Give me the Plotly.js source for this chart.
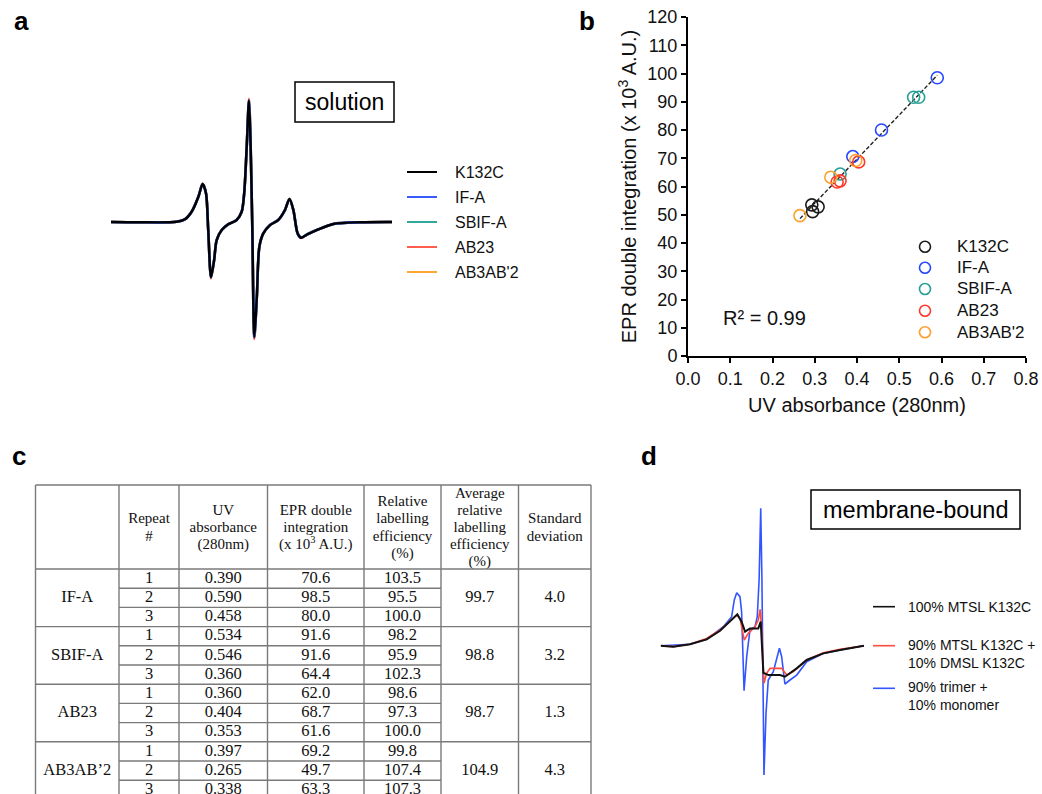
<!DOCTYPE html>
<html><head><meta charset="utf-8">
<script src="https://cdn.plot.ly/plotly-3.0.1.min.js"></script>
<style>html,body{margin:0;padding:0;background:#fff;}#chart{width:1042px;height:794px;}</style>
</head><body><div id="chart"></div>
<script>
// ================= DATA =================
const seriesNames = ["K132C", "IF-A", "SBIF-A", "AB23", "AB3AB'2"];

// Panel a: normalised solution EPR spectra (arbitrary field units 0-100)
const solutionField    = [0, 10.3, 23.4, 26.3, 28.7, 31.1, 32.6, 33.8, 34.6, 35.6, 36.7, 37.6, 39.4, 41.7, 44.7, 46.5, 47.4, 48.3, 49.1, 49.7, 50.3, 51.0, 51.9, 52.8, 54.2, 56.6, 59.5, 61.9, 63.5, 64.9, 66.4, 67.6, 70.1, 73.2, 79.1, 88.6, 100];
const solutionSpectrum = [0, -0.002, 0.002, 0.022, 0.084, 0.207, 0.311, 0.235, -0.066, -0.453, -0.311, -0.148, -0.066, -0.019, 0.016, 0.084, 0.235, 0.617, 0.996, 0.617, -0.066, -0.943, -0.612, -0.202, -0.093, -0.025, 0.016, 0.098, 0.189, 0.098, -0.093, -0.129, -0.098, -0.066, -0.016, -0.002, 0];
const solutionAB23     = [0, -0.002, 0.002, 0.022, 0.084, 0.207, 0.315, 0.235, -0.066, -0.462, -0.311, -0.148, -0.066, -0.019, 0.016, 0.084, 0.235, 0.617, 1.010, 0.617, -0.066, -0.958, -0.612, -0.202, -0.093, -0.025, 0.016, 0.098, 0.191, 0.098, -0.093, -0.131, -0.098, -0.066, -0.016, -0.002, 0];

// Panel b / table c
const uvK132C  = [0.293, 0.295, 0.308];
const eprK132C = [53.5, 51.1, 52.8];
const uvIFA  = [0.390, 0.590, 0.458], eprIFA  = [70.6, 98.5, 80.0], relIFA  = [103.5, 95.5, 100.0];
const uvSBIFA = [0.534, 0.546, 0.360], eprSBIFA = [91.6, 91.6, 64.4], relSBIFA = [98.2, 95.9, 102.3];
const uvAB23 = [0.360, 0.404, 0.353], eprAB23 = [62.0, 68.7, 61.6], relAB23 = [98.6, 97.3, 100.0];
const uvAB3AB2 = [0.397, 0.265, 0.338], eprAB3AB2 = [69.2, 49.7, 63.3], relAB3AB2 = [99.8, 107.4, 107.3];
const tableGroups = ["IF-A", "SBIF-A", "AB23", "AB3AB\u20192"];
const repeatNumbers = [1, 2, 3];
const avgEfficiency = [99.7, 98.8, 98.7, 104.9];
const stdDeviation = [4.0, 3.2, 1.3, 4.3];
const tableHeaders = ["", "Repeat<br>#", "UV<br>absorbance<br>(280nm)", "EPR double<br>integration<br>(x 10<sup>3</sup> A.U.)",
  "Relative<br>labelling<br>efficiency<br>(%)", "Average<br>relative<br>labelling<br>efficiency<br>(%)", "Standard<br>deviation"];
const r2Label = "R\u00b2 = 0.99";

// Panel d: membrane-bound spectra (arbitrary field units 0-100)
const memLabels = ["100% MTSL K132C", "90% MTSL K132C +<br>10% DMSL K132C", "90% trimer +<br>10% monomer"];
const memFieldMTSL = [0, 6.2, 14.4, 22.6, 29.2, 34.1, 37.7, 39.8, 41.5, 43.9, 46.4, 48.0, 49.2, 50.5, 53.0, 55.4, 58.7, 61.1, 63.6, 66.9, 71.8, 80.0, 88.2, 100];
const memMTSL      = [0, -0.007, 0.010, 0.046, 0.109, 0.175, 0.228, 0.175, 0.102, 0.126, 0.126, 0.126, 0.175, -0.197, -0.214, -0.214, -0.214, -0.226, -0.201, -0.165, -0.104, -0.056, -0.032, 0];
const memFieldDMSL = [0, 6.2, 14.4, 22.6, 29.2, 34.1, 37.4, 39.0, 41.1, 43.1, 46.4, 48.0, 48.9, 49.7, 50.8, 52.1, 53.8, 59.5, 62.0, 65.2, 71.8, 80.0, 88.2, 100];
const memDMSL      = [0, -0.007, 0.010, 0.053, 0.114, 0.175, 0.223, 0.199, 0.041, 0.090, 0.138, 0.187, 0.265, 0.114, -0.274, -0.201, -0.165, -0.165, -0.214, -0.189, -0.104, -0.051, -0.027, 0];
const memFieldTrimer = [0, 14.4, 22.6, 30.8, 34.9, 36.2, 37.4, 39.0, 39.8, 41.0, 42.3, 43.9, 46.4, 47.5, 48.4, 49.2, 49.8, 50.8, 51.8, 52.9, 55.4, 57.0, 58.4, 59.5, 61.1, 63.6, 66.9, 71.8, 80.0, 88.2, 100];
const memTrimer      = [0, 0.010, 0.046, 0.138, 0.211, 0.333, 0.386, 0.357, 0.248, -0.328, -0.080, 0.114, 0.138, 0.211, 0.478, 1.0, 0.478, -0.942, -0.493, -0.250, -0.189, -0.104, -0.019, -0.080, -0.279, -0.250, -0.214, -0.117, -0.056, -0.032, 0];

// ================= STYLE / LAYOUT HELPERS =================
const W = 1042, H = 794;
const X = p => p / W, Y = p => 1 - p / H;
const SANS = "Liberation Sans, Arial, sans-serif";
const SERIF = "Liberation Serif, Times New Roman, serif";
const lineColorsA = ["#000000", "#3a5bff", "#32a89c", "#ff5c4d", "#ffa733"];
const markerColorsB = ["#1c1c1c", "#2647ff", "#26a095", "#ff3a2a", "#ffa02e"];
const memColors = ["#111111", "#ff4a3d", "#3355ff"];

const traces = [];

// ---- Panel a traces (drawn so that black is on top) ----
const solutionSeries = [solutionSpectrum, solutionSpectrum, solutionSpectrum, solutionAB23, solutionSpectrum];
[4, 3, 2, 1, 0].forEach(i => {
  traces.push({type: "scatter", mode: "lines", x: solutionField, y: solutionSeries[i], name: seriesNames[i],
    xaxis: "x", yaxis: "y", line: {color: lineColorsA[i], width: i === 0 ? 2.4 : 2.6, shape: "spline", smoothing: 0.8},
    hoverinfo: "skip", showlegend: false});
});

// ---- Panel b traces ----
const uvSets = [uvK132C, uvIFA, uvSBIFA, uvAB23, uvAB3AB2];
const eprSets = [eprK132C, eprIFA, eprSBIFA, eprAB23, eprAB3AB2];
const allUV = [].concat(...uvSets), allEPR = [].concat(...eprSets);
const n = allUV.length;
const mx = allUV.reduce((a, b) => a + b, 0) / n, my = allEPR.reduce((a, b) => a + b, 0) / n;
let sxy = 0, sxx = 0;
for (let k = 0; k < n; k++) { sxy += (allUV[k] - mx) * (allEPR[k] - my); sxx += (allUV[k] - mx) ** 2; }
const slope = sxy / sxx, icpt = my - slope * mx;
const fitX = [Math.min(...allUV), Math.max(...allUV)];
traces.push({type: "scatter", mode: "lines", x: fitX, y: fitX.map(v => icpt + slope * v), xaxis: "x2", yaxis: "y2",
  line: {color: "#222", width: 1.4, dash: "4px,2px"}, hoverinfo: "skip", showlegend: false});
uvSets.forEach((u, i) => {
  traces.push({type: "scatter", mode: "markers", x: u, y: eprSets[i], name: seriesNames[i], xaxis: "x2", yaxis: "y2",
    marker: {symbol: "circle-open", size: 12, color: markerColorsB[i], line: {width: 1.6, color: markerColorsB[i]}},
    cliponaxis: false, hoverinfo: "skip", showlegend: false});
});

// ---- Panel d traces ----
const memX = [memFieldMTSL, memFieldDMSL, memFieldTrimer], memY = [memMTSL, memDMSL, memTrimer];
[2, 1, 0].forEach(i => {
  traces.push({type: "scatter", mode: "lines", x: memX[i], y: memY[i], name: memLabels[i].replace("<br>", " "),
    xaxis: "x3", yaxis: "y3", line: {color: memColors[i], width: i === 0 ? 2 : 1.6},
    hoverinfo: "skip", showlegend: false});
});

// ---- Panel c table (cells drawn as text on a hidden axis pair) ----
const colEdges = [0, 83.5, 143.5, 232, 328.5, 405.5, 483, 555.5];   // px offsets from table left
const headerTop = -4.375, rowsBottom = 12;                           // in row units
const colC = c => (colEdges[c] + colEdges[c + 1]) / 2;
const relSets = [relIFA, relSBIFA, relAB23, relAB3AB2];
const uvTab = [uvIFA, uvSBIFA, uvAB23, uvAB3AB2], eprTab = [eprIFA, eprSBIFA, eprAB23, eprAB3AB2];
const cellX = [], cellY = [], cellT = [];
tableGroups.forEach((g, gi) => {
  cellX.push(colC(0)); cellY.push(gi * 3 + 1.5); cellT.push(g);
  cellX.push(colC(5)); cellY.push(gi * 3 + 1.5); cellT.push(avgEfficiency[gi].toFixed(1));
  cellX.push(colC(6)); cellY.push(gi * 3 + 1.5); cellT.push(stdDeviation[gi].toFixed(1));
  repeatNumbers.forEach((r, ri) => {
    const row = gi * 3 + ri + 0.5;
    cellX.push(colC(1)); cellY.push(row); cellT.push(String(r));
    cellX.push(colC(2)); cellY.push(row); cellT.push(uvTab[gi][ri].toFixed(3));
    cellX.push(colC(3)); cellY.push(row); cellT.push(eprTab[gi][ri].toFixed(1));
    cellX.push(colC(4)); cellY.push(row); cellT.push(relSets[gi][ri].toFixed(1));
  });
});
traces.push({type: "scatter", mode: "text", x: cellX, y: cellY, text: cellT, textposition: "middle center",
  textfont: {family: SERIF, size: 16.5, color: "#111"}, xaxis: "x4", yaxis: "y4", cliponaxis: false,
  hoverinfo: "skip", showlegend: false});
const hX = [], hY = [], hT = [];
const hCenter = -2.12, hStep = 0.89;
tableHeaders.forEach((h, c) => {
  if (!h) return;
  const lines = h.split("<br>");
  lines.forEach((ln, li) => {
    hX.push(colC(c)); hY.push(hCenter + (li - (lines.length - 1) / 2) * hStep); hT.push(ln);
  });
});
traces.push({type: "scatter", mode: "text", x: hX, y: hY, text: hT, textposition: "middle center",
  textfont: {family: SERIF, size: 15, color: "#111"}, xaxis: "x4", yaxis: "y4", cliponaxis: false,
  hoverinfo: "skip", showlegend: false});

// ================= SHAPES & ANNOTATIONS =================
const shapes = [], annotations = [];
const gridLine = {color: "#7a7a7a", width: 1.4};
// table horizontal lines
[headerTop, 0, 3, 6, 9, rowsBottom].forEach(yv => shapes.push({type: "line", xref: "x4", yref: "y4", x0: colEdges[0], x1: colEdges[7], y0: yv, y1: yv, line: gridLine}));
for (let k = 1; k < 12; k++) if (k % 3) shapes.push({type: "line", xref: "x4", yref: "y4", x0: colEdges[1], x1: colEdges[5], y0: k, y1: k, line: gridLine});
colEdges.forEach(xv => shapes.push({type: "line", xref: "x4", yref: "y4", x0: xv, x1: xv, y0: headerTop, y1: rowsBottom, line: gridLine}));

// panel labels
[["a", 12, 21], ["b", 577, 21], ["c", 10, 456], ["d", 639, 456]].forEach(([t, px, py]) =>
  annotations.push({text: t, xref: "paper", yref: "paper", x: X(px), y: Y(py), xanchor: "left", yanchor: "middle",
    showarrow: false, font: {family: SANS, size: 26, weight: 700, color: "#000"}}));

// boxed titles
shapes.push({type: "rect", xref: "paper", yref: "paper", x0: X(295), x1: X(394), y0: Y(122), y1: Y(82), line: {color: "#000", width: 1.5}});
annotations.push({text: "solution", xref: "paper", yref: "paper", x: X(344.5), y: Y(102), xanchor: "center", yanchor: "middle", showarrow: false, font: {family: SANS, size: 23, color: "#000"}});
shapes.push({type: "rect", xref: "paper", yref: "paper", x0: X(811), x1: X(1020), y0: Y(529), y1: Y(490), line: {color: "#000", width: 1.5}});
annotations.push({text: "membrane-bound", xref: "paper", yref: "paper", x: X(915.5), y: Y(509.5), xanchor: "center", yanchor: "middle", showarrow: false, font: {family: SANS, size: 23.5, color: "#000"}});

// legend a
seriesNames.forEach((nm, i) => {
  const py = 172 + i * 25;
  shapes.push({type: "line", xref: "paper", yref: "paper", x0: X(407), x1: X(437), y0: Y(py), y1: Y(py), line: {color: lineColorsA[i], width: 2}});
  annotations.push({text: nm, xref: "paper", yref: "paper", x: X(453), y: Y(py), xanchor: "left", yanchor: "middle", showarrow: false, font: {family: SANS, size: 16, color: "#111"}});
});
// legend b
[246.7, 267.7, 289, 310.7, 332.3].forEach((py, i) => {
  shapes.push({type: "circle", xref: "paper", yref: "paper", xsizemode: "pixel", ysizemode: "pixel", xanchor: X(925), yanchor: Y(py),
    x0: -5.5, x1: 5.5, y0: -5.5, y1: 5.5, line: {color: markerColorsB[i], width: 1.6}});
  annotations.push({text: seriesNames[i], xref: "paper", yref: "paper", x: X(955), y: Y(py), xanchor: "left", yanchor: "middle", showarrow: false, font: {family: SANS, size: 17, color: "#111"}});
});
annotations.push({text: r2Label, xref: "paper", yref: "paper", x: X(721), y: Y(318), xanchor: "left", yanchor: "middle", showarrow: false, font: {family: SANS, size: 20, color: "#111"}});
// legend d
[[606.7, 606.7], [645.7, 654.2], [688.3, 696.2]].forEach(([ly, ty], i) => {
  shapes.push({type: "line", xref: "paper", yref: "paper", x0: X(873), x1: X(895), y0: Y(ly), y1: Y(ly), line: {color: memColors[i], width: 1.6}});
  annotations.push({text: memLabels[i], xref: "paper", yref: "paper", x: X(906), y: Y(ty), xanchor: "left", yanchor: "middle", align: "left", showarrow: false, font: {family: SANS, size: 14, color: "#111"}});
});

// ================= LAYOUT =================
const hidden = {visible: false, fixedrange: true, showgrid: false, zeroline: false};
const axB = {showline: true, linewidth: 2, linecolor: "#000", ticks: "outside", ticklen: 5, tickwidth: 2, tickcolor: "#000",
  showgrid: false, zeroline: false, tickfont: {family: SANS, size: 18, color: "#111"}, fixedrange: true};
const layout = {
  width: W, height: H, margin: {l: 0, r: 0, t: 0, b: 0}, autosize: false,
  paper_bgcolor: "#fff", plot_bgcolor: "rgba(0,0,0,0)", showlegend: false,
  font: {family: SANS, color: "#111"},
  xaxis: Object.assign({}, hidden, {domain: [X(111), X(392)], range: [0, 100], anchor: "y"}),
  yaxis: Object.assign({}, hidden, {domain: [Y(350), Y(90)], range: [-1.049, 1.082], anchor: "x"}),
  xaxis2: Object.assign({}, axB, {domain: [X(688), X(1026)], range: [0, 0.8], dtick: 0.1, tickformat: ".1f", anchor: "y2",
    title: {text: "UV absorbance (280nm)", font: {family: SANS, size: 20, color: "#111"}, standoff: 10}}),
  yaxis2: Object.assign({}, axB, {domain: [Y(356), Y(17)], range: [0, 120], dtick: 10, anchor: "x2",
    title: {text: "EPR double integration (x 10<sup>3</sup> A.U.)", font: {family: SANS, size: 20, color: "#111"}, standoff: 5}}),
  xaxis3: Object.assign({}, hidden, {domain: [X(660.7), X(864)], range: [0, 100], anchor: "y3"}),
  yaxis3: Object.assign({}, hidden, {domain: [Y(790), Y(500)], range: [-1.051, 1.061], anchor: "x3"}),
  xaxis4: Object.assign({}, hidden, {domain: [X(30), X(600)], range: [-5.5, 564.5], anchor: "y4"}),
  yaxis4: Object.assign({}, hidden, {domain: [0, Y(480)], range: [11.719, -4.635], anchor: "x4"}),
  shapes: shapes, annotations: annotations
};
Plotly.newPlot("chart", traces, layout, {displayModeBar: false, staticPlot: true});
</script></body></html>
